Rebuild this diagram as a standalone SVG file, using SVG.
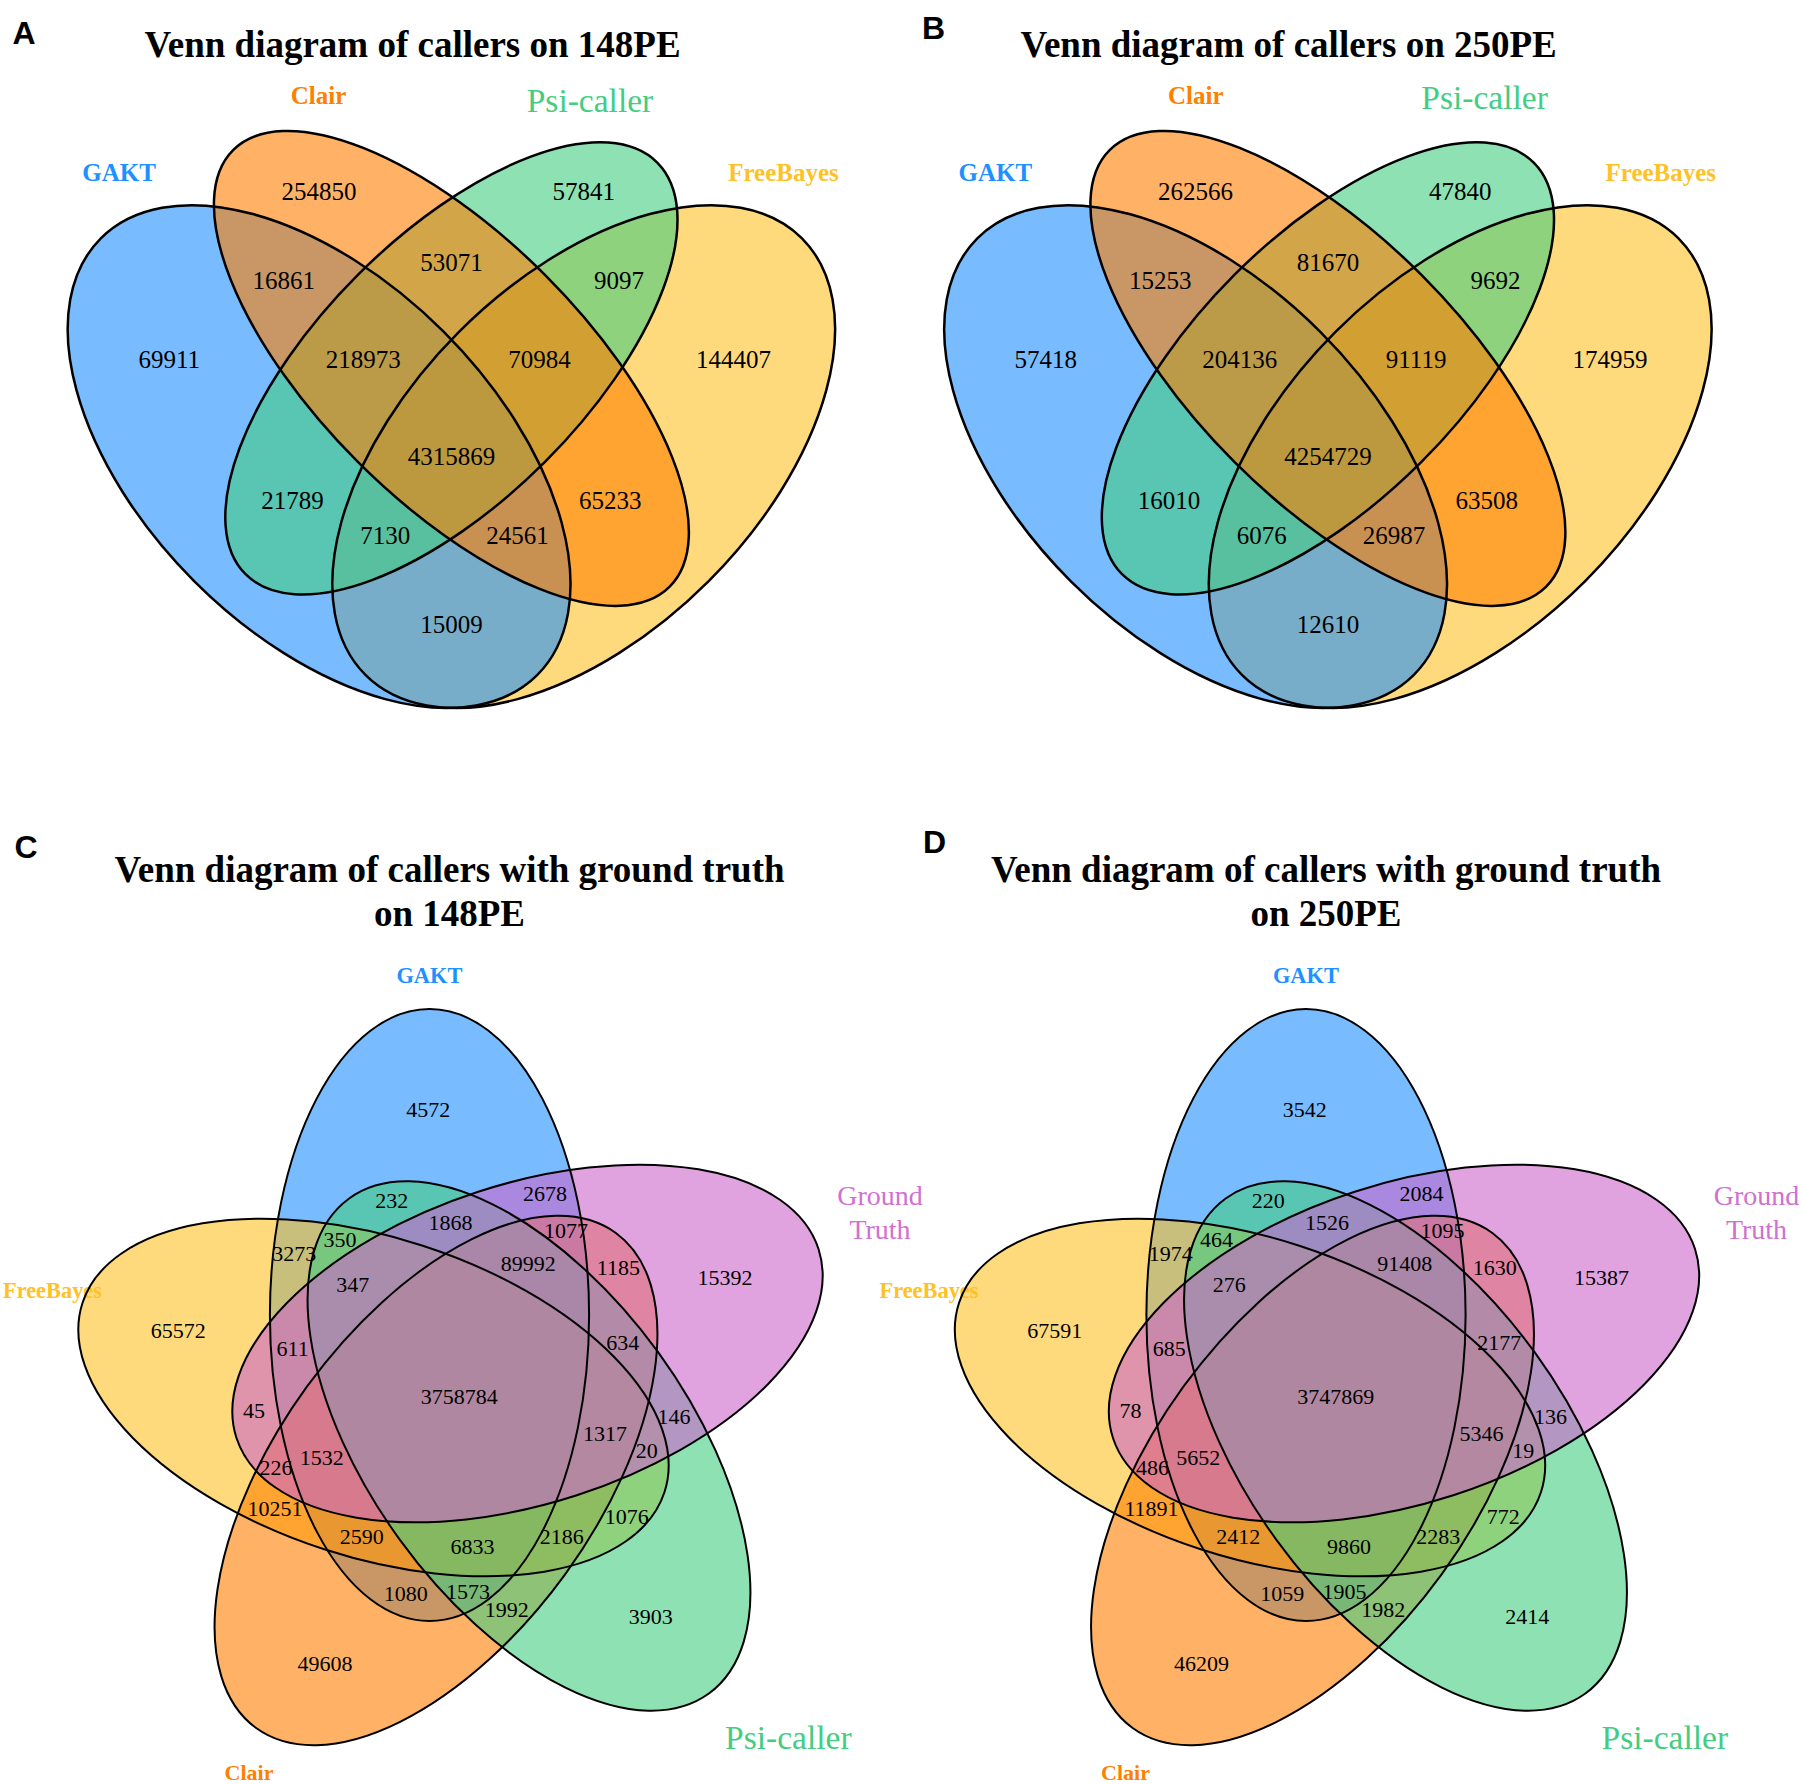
<svg xmlns="http://www.w3.org/2000/svg" xmlns:xlink="http://www.w3.org/1999/xlink" width="1803" height="1784" viewBox="0 0 1803 1784">
<style>
.num{font-family:"Liberation Serif","Times New Roman",serif;fill:#000;text-anchor:middle}
.n4{font-size:25px}
.n5{font-size:22px}
.title{font-family:"Liberation Serif","Times New Roman",serif;font-weight:bold;font-size:37px;text-anchor:middle;fill:#000}
.letter{font-family:"Liberation Sans",Arial,sans-serif;font-weight:bold;font-size:32px;fill:#000}
.lb{font-family:"Liberation Serif","Times New Roman",serif;font-weight:bold;text-anchor:middle}
.lr{font-family:"Liberation Serif","Times New Roman",serif;text-anchor:middle}
.cb{fill:#1E90FF}
.co{fill:#FF7F00}
.cg{fill:#43CD80}
.cy{fill:#FFC125}
.cm{fill:#D070D0}
.fb{fill:#1E90FF;fill-opacity:0.6}
.fo{fill:#FF7F00;fill-opacity:0.6}
.fg{fill:#43CD80;fill-opacity:0.6}
.fy{fill:#FFC125;fill-opacity:0.6}
.fm{fill:#CC66CC;fill-opacity:0.6}
.o4{fill:none;stroke:#000;stroke-width:2.5}
.o5{fill:none;stroke:#000;stroke-width:2}
</style>
<defs>
<ellipse id="eAy" cx="583.7" cy="456.6" rx="308.7" ry="176.4" transform="rotate(-45 583.7 456.6)"/>
<ellipse id="eAb" cx="319.1" cy="456.6" rx="308.7" ry="176.4" transform="rotate(45 319.1 456.6)"/>
<ellipse id="eAg" cx="451.4" cy="368.4" rx="291.1" ry="132.3" transform="rotate(-45 451.4 368.4)"/>
<ellipse id="eAo" cx="451.4" cy="368.4" rx="308.7" ry="132.3" transform="rotate(45 451.4 368.4)"/>
<ellipse id="eCb" cx="429.5" cy="1315" rx="159.6" ry="306"/>
<ellipse id="eCm" cx="527.5" cy="1343.5" rx="159.6" ry="306" transform="rotate(72 527.5 1343.5)"/>
<ellipse id="eCg" cx="529" cy="1446" rx="159.6" ry="306" transform="rotate(144 529 1446)"/>
<ellipse id="eCo" cx="436" cy="1480.5" rx="159.6" ry="306" transform="rotate(216 436 1480.5)"/>
<ellipse id="eCy" cx="373.5" cy="1397.5" rx="159.6" ry="306" transform="rotate(288 373.5 1397.5)"/>
</defs>
<rect width="1803" height="1784" fill="#fff"/>

<g id="panelA">
<text class="letter" x="12.6" y="43.6">A</text>
<text class="title" x="412.5" y="57.2">Venn diagram of callers on 148PE</text>
<g id="labelsA">
<text class="lb cb" x="119" y="180.8" font-size="25">GAKT</text>
<text class="lb co" x="318.6" y="104.2" font-size="25">Clair</text>
<text class="lr cg" x="590" y="111.5" font-size="33.5">Psi-caller</text>
<text class="lb cy" x="783.5" y="180.8" font-size="25">FreeBayes</text>
</g>
<g id="fillsA">
<use xlink:href="#eAy" class="fy"/>
<use xlink:href="#eAb" class="fb"/>
<use xlink:href="#eAg" class="fg"/>
<use xlink:href="#eAo" class="fo"/>
</g>
<g id="outlinesA" class="o4">
<use xlink:href="#eAy"/>
<use xlink:href="#eAb"/>
<use xlink:href="#eAg"/>
<use xlink:href="#eAo"/>
</g>
<g id="countsA" class="num n4">
<text x="319.1" y="200.3">254850</text>
<text x="451.4" y="270.9">53071</text>
<text x="583.7" y="200.3">57841</text>
<text x="283.8" y="288.5">16861</text>
<text x="363.2" y="367.9">218973</text>
<text x="451.4" y="464.9">4315869</text>
<text x="539.6" y="367.9">70984</text>
<text x="619" y="288.5">9097</text>
<text x="169.2" y="367.9">69911</text>
<text x="292.6" y="509">21789</text>
<text x="385.2" y="544.3">7130</text>
<text x="451.4" y="632.5">15009</text>
<text x="517.6" y="544.3">24561</text>
<text x="610.2" y="509">65233</text>
<text x="733.6" y="367.9">144407</text>
</g>
</g>

<g id="panelB">
<text class="letter" x="921.9" y="38.8">B</text>
<text class="title" x="1288.7" y="57.2">Venn diagram of callers on 250PE</text>
<g id="labelsB">
<text class="lb cb" x="995.3" y="180.8" font-size="25">GAKT</text>
<text class="lb co" x="1195.8" y="104.2" font-size="25">Clair</text>
<text class="lr cg" x="1484.6" y="109" font-size="33.5">Psi-caller</text>
<text class="lb cy" x="1660.8" y="180.8" font-size="25">FreeBayes</text>
</g>
<g transform="translate(876.5 0)">
<g id="fillsB">
<use xlink:href="#eAy" class="fy"/>
<use xlink:href="#eAb" class="fb"/>
<use xlink:href="#eAg" class="fg"/>
<use xlink:href="#eAo" class="fo"/>
</g>
<g id="outlinesB" class="o4">
<use xlink:href="#eAy"/>
<use xlink:href="#eAb"/>
<use xlink:href="#eAg"/>
<use xlink:href="#eAo"/>
</g>
<g id="countsB" class="num n4">
<text x="319.1" y="200.3">262566</text>
<text x="451.4" y="270.9">81670</text>
<text x="583.7" y="200.3">47840</text>
<text x="283.8" y="288.5">15253</text>
<text x="363.2" y="367.9">204136</text>
<text x="451.4" y="464.9">4254729</text>
<text x="539.6" y="367.9">91119</text>
<text x="619" y="288.5">9692</text>
<text x="169.2" y="367.9">57418</text>
<text x="292.6" y="509">16010</text>
<text x="385.2" y="544.3">6076</text>
<text x="451.4" y="632.5">12610</text>
<text x="517.6" y="544.3">26987</text>
<text x="610.2" y="509">63508</text>
<text x="733.6" y="367.9">174959</text>
</g>
</g>
</g>

<g id="panelC">
<text class="letter" x="14.4" y="857.7">C</text>
<text class="title" x="449.5" y="881.6">Venn diagram of callers with ground truth</text>
<text class="title" x="449.5" y="925.5">on 148PE</text>
<g id="labelsC">
<text class="lb cb" x="429.4" y="983" font-size="22.4">GAKT</text>
<text class="lb cy" x="52.5" y="1298" font-size="22.4">FreeBayes</text>
<text class="lb co" x="249" y="1780" font-size="22">Clair</text>
<text class="lr cg" x="788.3" y="1748.5" font-size="33.5">Psi-caller</text>
<text class="lr cm" x="880" y="1205" font-size="28">Ground</text>
<text class="lr cm" x="880" y="1238.5" font-size="28">Truth</text>
</g>
<g id="fillsC">
<use xlink:href="#eCb" class="fb"/>
<use xlink:href="#eCy" class="fy"/>
<use xlink:href="#eCo" class="fo"/>
<use xlink:href="#eCg" class="fg"/>
<use xlink:href="#eCm" class="fm"/>
</g>
<g id="outlinesC" class="o5">
<use xlink:href="#eCb"/>
<use xlink:href="#eCy"/>
<use xlink:href="#eCo"/>
<use xlink:href="#eCg"/>
<use xlink:href="#eCm"/>
</g>
<g id="countsC" class="num n5">
<text x="428.3" y="1116.6">4572</text>
<text x="391.7" y="1208">232</text>
<text x="545" y="1201.3">2678</text>
<text x="450.6" y="1229.7">1868</text>
<text x="340" y="1246.6">350</text>
<text x="294.3" y="1260.6">3273</text>
<text x="566" y="1238">1077</text>
<text x="528.3" y="1271.3">89992</text>
<text x="618.3" y="1274.6">1185</text>
<text x="725" y="1284.6">15392</text>
<text x="352.7" y="1292.3">347</text>
<text x="178.3" y="1338">65572</text>
<text x="292.7" y="1355.6">611</text>
<text x="622.7" y="1350">634</text>
<text x="459.2" y="1403.5">3758784</text>
<text x="254" y="1418">45</text>
<text x="674" y="1424">146</text>
<text x="605" y="1440.6">1317</text>
<text x="646.7" y="1458">20</text>
<text x="321.7" y="1464.6">1532</text>
<text x="276" y="1474.6">226</text>
<text x="275" y="1515.6">10251</text>
<text x="626.7" y="1524">1076</text>
<text x="361.7" y="1544">2590</text>
<text x="561.7" y="1544">2186</text>
<text x="472.4" y="1554.1">6833</text>
<text x="405.7" y="1600.6">1080</text>
<text x="468" y="1599.3">1573</text>
<text x="506.7" y="1617.3">1992</text>
<text x="650.7" y="1624">3903</text>
<text x="325" y="1670.6">49608</text>
</g>
</g>

<g id="panelD">
<text class="letter" x="923" y="853.3">D</text>
<text class="title" x="1326" y="881.6">Venn diagram of callers with ground truth</text>
<text class="title" x="1326" y="925.5">on 250PE</text>
<g transform="translate(876.5 0)">
<g id="labelsD">
<text class="lb cb" x="429.4" y="983" font-size="22.4">GAKT</text>
<text class="lb cy" x="52.5" y="1298" font-size="22.4">FreeBayes</text>
<text class="lb co" x="249" y="1780" font-size="22">Clair</text>
<text class="lr cg" x="788.3" y="1748.5" font-size="33.5">Psi-caller</text>
<text class="lr cm" x="880" y="1205" font-size="28">Ground</text>
<text class="lr cm" x="880" y="1238.5" font-size="28">Truth</text>
</g>
<g id="fillsD">
<use xlink:href="#eCb" class="fb"/>
<use xlink:href="#eCy" class="fy"/>
<use xlink:href="#eCo" class="fo"/>
<use xlink:href="#eCg" class="fg"/>
<use xlink:href="#eCm" class="fm"/>
</g>
<g id="outlinesD" class="o5">
<use xlink:href="#eCb"/>
<use xlink:href="#eCy"/>
<use xlink:href="#eCo"/>
<use xlink:href="#eCg"/>
<use xlink:href="#eCm"/>
</g>
<g id="countsD" class="num n5">
<text x="428.3" y="1116.6">3542</text>
<text x="391.7" y="1208">220</text>
<text x="545" y="1201.3">2084</text>
<text x="450.6" y="1229.7">1526</text>
<text x="340" y="1246.6">464</text>
<text x="294.3" y="1260.6">1974</text>
<text x="566" y="1238">1095</text>
<text x="528.3" y="1271.3">91408</text>
<text x="618.3" y="1274.6">1630</text>
<text x="725" y="1284.6">15387</text>
<text x="352.7" y="1292.3">276</text>
<text x="178.3" y="1338">67591</text>
<text x="292.7" y="1355.6">685</text>
<text x="622.7" y="1350">2177</text>
<text x="459.2" y="1403.5">3747869</text>
<text x="254" y="1418">78</text>
<text x="674" y="1424">136</text>
<text x="605" y="1440.6">5346</text>
<text x="646.7" y="1458">19</text>
<text x="321.7" y="1464.6">5652</text>
<text x="276" y="1474.6">486</text>
<text x="275" y="1515.6">11891</text>
<text x="626.7" y="1524">772</text>
<text x="361.7" y="1544">2412</text>
<text x="561.7" y="1544">2283</text>
<text x="472.4" y="1554.1">9860</text>
<text x="405.7" y="1600.6">1059</text>
<text x="468" y="1599.3">1905</text>
<text x="506.7" y="1617.3">1982</text>
<text x="650.7" y="1624">2414</text>
<text x="325" y="1670.6">46209</text>
</g>
</g>
</g>
</svg>
